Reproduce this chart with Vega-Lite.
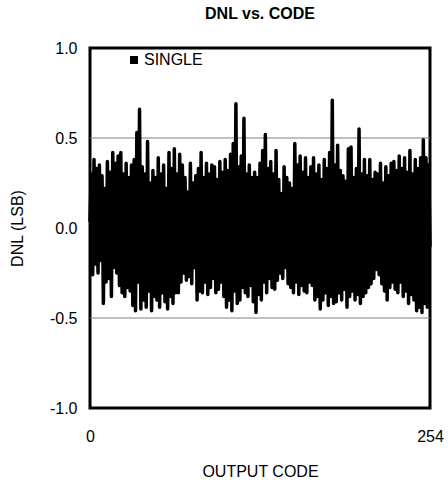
{
  "$schema": "https://vega.github.io/schema/vega-lite/v6.json",
  "width": 340,
  "height": 360,
  "autosize": {"type": "none"},
  "padding": {"left": 90, "top": 48, "right": 18, "bottom": 77},
  "background": "white",
  "config": {
    "font": "Liberation Sans",
    "view": {"stroke": "black", "strokeWidth": 3},
    "axis": {"labelFont": "Liberation Sans", "titleFont": "Liberation Sans", "labelColor": "black", "titleColor": "black", "titleFontWeight": "normal"}
  },
  "title": {"text": "DNL vs. CODE", "fontSize": 16, "fontWeight": "bold", "font": "Liberation Sans", "color": "black", "offset": 18},
  "layer": [
    {
      "data": {"values": [{"g": 0.5}, {"g": -0.5}]},
      "mark": {"type": "rule", "color": "#808080", "strokeWidth": 1},
      "encoding": {"y": {"field": "g", "type": "quantitative", "scale": {"domain": [-1, 1]}}}
    },
    {
      "data": {"values": [
{"code":0,"dnl":0.04},{"code":1,"dnl":0.30},{"code":2,"dnl":-0.26},{"code":3,"dnl":0.38},{"code":4,"dnl":-0.20},{"code":5,"dnl":0.33},{"code":6,"dnl":-0.25},{"code":7,"dnl":0.35},{"code":8,"dnl":-0.18},{"code":9,"dnl":0.29},
{"code":10,"dnl":-0.42},{"code":11,"dnl":0.22},{"code":12,"dnl":-0.30},{"code":13,"dnl":0.37},{"code":14,"dnl":-0.28},{"code":15,"dnl":0.31},{"code":16,"dnl":-0.38},{"code":17,"dnl":0.42},{"code":18,"dnl":-0.22},{"code":19,"dnl":0.36},
{"code":20,"dnl":-0.25},{"code":21,"dnl":0.40},{"code":22,"dnl":-0.32},{"code":23,"dnl":0.42},{"code":24,"dnl":-0.36},{"code":25,"dnl":0.30},{"code":26,"dnl":-0.38},{"code":27,"dnl":0.36},{"code":28,"dnl":-0.33},{"code":29,"dnl":0.28},
{"code":30,"dnl":-0.35},{"code":31,"dnl":0.35},{"code":32,"dnl":-0.43},{"code":33,"dnl":0.38},{"code":34,"dnl":-0.46},{"code":35,"dnl":0.53},{"code":36,"dnl":-0.30},{"code":37,"dnl":0.66},{"code":38,"dnl":-0.45},{"code":39,"dnl":0.34},
{"code":40,"dnl":-0.40},{"code":41,"dnl":0.30},{"code":42,"dnl":-0.44},{"code":43,"dnl":0.48},{"code":44,"dnl":-0.35},{"code":45,"dnl":0.25},{"code":46,"dnl":-0.46},{"code":47,"dnl":0.32},{"code":48,"dnl":-0.38},{"code":49,"dnl":0.28},
{"code":50,"dnl":-0.40},{"code":51,"dnl":0.39},{"code":52,"dnl":-0.44},{"code":53,"dnl":0.30},{"code":54,"dnl":-0.36},{"code":55,"dnl":0.35},{"code":56,"dnl":-0.41},{"code":57,"dnl":0.22},{"code":58,"dnl":-0.45},{"code":59,"dnl":0.42},
{"code":60,"dnl":-0.38},{"code":61,"dnl":0.33},{"code":62,"dnl":-0.42},{"code":63,"dnl":0.44},{"code":64,"dnl":-0.36},{"code":65,"dnl":0.30},{"code":66,"dnl":-0.36},{"code":67,"dnl":0.41},{"code":68,"dnl":-0.30},{"code":69,"dnl":0.35},
{"code":70,"dnl":-0.25},{"code":71,"dnl":0.28},{"code":72,"dnl":-0.29},{"code":73,"dnl":0.20},{"code":74,"dnl":-0.27},{"code":75,"dnl":0.36},{"code":76,"dnl":-0.31},{"code":77,"dnl":0.25},{"code":78,"dnl":-0.22},{"code":79,"dnl":0.29},
{"code":80,"dnl":-0.40},{"code":81,"dnl":0.33},{"code":82,"dnl":-0.35},{"code":83,"dnl":0.42},{"code":84,"dnl":-0.36},{"code":85,"dnl":0.28},{"code":86,"dnl":-0.30},{"code":87,"dnl":0.36},{"code":88,"dnl":-0.37},{"code":89,"dnl":0.30},
{"code":90,"dnl":-0.33},{"code":91,"dnl":0.35},{"code":92,"dnl":-0.28},{"code":93,"dnl":0.34},{"code":94,"dnl":-0.36},{"code":95,"dnl":0.27},{"code":96,"dnl":-0.34},{"code":97,"dnl":0.37},{"code":98,"dnl":-0.30},{"code":99,"dnl":0.31},
{"code":100,"dnl":-0.38},{"code":101,"dnl":0.38},{"code":102,"dnl":-0.44},{"code":103,"dnl":0.32},{"code":104,"dnl":-0.40},{"code":105,"dnl":0.41},{"code":106,"dnl":-0.46},{"code":107,"dnl":0.47},{"code":108,"dnl":-0.35},{"code":109,"dnl":0.69},
{"code":110,"dnl":-0.42},{"code":111,"dnl":0.34},{"code":112,"dnl":-0.40},{"code":113,"dnl":0.40},{"code":114,"dnl":-0.33},{"code":115,"dnl":0.61},{"code":116,"dnl":-0.36},{"code":117,"dnl":0.30},{"code":118,"dnl":-0.38},{"code":119,"dnl":0.35},
{"code":120,"dnl":-0.32},{"code":121,"dnl":0.28},{"code":122,"dnl":-0.41},{"code":123,"dnl":0.31},{"code":124,"dnl":-0.47},{"code":125,"dnl":0.28},{"code":126,"dnl":-0.37},{"code":127,"dnl":0.36},{"code":128,"dnl":-0.40},{"code":129,"dnl":0.43},
{"code":130,"dnl":-0.30},{"code":131,"dnl":0.52},{"code":132,"dnl":-0.36},{"code":133,"dnl":0.33},{"code":134,"dnl":-0.28},{"code":135,"dnl":0.37},{"code":136,"dnl":-0.33},{"code":137,"dnl":0.30},{"code":138,"dnl":-0.34},{"code":139,"dnl":0.43},
{"code":140,"dnl":-0.29},{"code":141,"dnl":0.27},{"code":142,"dnl":-0.25},{"code":143,"dnl":0.19},{"code":144,"dnl":-0.28},{"code":145,"dnl":0.34},{"code":146,"dnl":-0.22},{"code":147,"dnl":0.28},{"code":148,"dnl":-0.31},{"code":149,"dnl":0.25},
{"code":150,"dnl":-0.33},{"code":151,"dnl":0.22},{"code":152,"dnl":-0.36},{"code":153,"dnl":0.47},{"code":154,"dnl":-0.30},{"code":155,"dnl":0.35},{"code":156,"dnl":-0.37},{"code":157,"dnl":0.40},{"code":158,"dnl":-0.32},{"code":159,"dnl":0.31},
{"code":160,"dnl":-0.35},{"code":161,"dnl":0.39},{"code":162,"dnl":-0.36},{"code":163,"dnl":0.28},{"code":164,"dnl":-0.30},{"code":165,"dnl":0.34},{"code":166,"dnl":-0.32},{"code":167,"dnl":0.39},{"code":168,"dnl":-0.40},{"code":169,"dnl":0.30},
{"code":170,"dnl":-0.38},{"code":171,"dnl":0.35},{"code":172,"dnl":-0.45},{"code":173,"dnl":0.27},{"code":174,"dnl":-0.40},{"code":175,"dnl":0.38},{"code":176,"dnl":-0.36},{"code":177,"dnl":0.33},{"code":178,"dnl":-0.43},{"code":179,"dnl":0.42},
{"code":180,"dnl":-0.38},{"code":181,"dnl":0.71},{"code":182,"dnl":-0.42},{"code":183,"dnl":0.35},{"code":184,"dnl":-0.41},{"code":185,"dnl":0.46},{"code":186,"dnl":-0.36},{"code":187,"dnl":0.32},{"code":188,"dnl":-0.40},{"code":189,"dnl":0.29},
{"code":190,"dnl":-0.34},{"code":191,"dnl":0.26},{"code":192,"dnl":-0.44},{"code":193,"dnl":0.44},{"code":194,"dnl":-0.38},{"code":195,"dnl":0.45},{"code":196,"dnl":-0.35},{"code":197,"dnl":0.28},{"code":198,"dnl":-0.40},{"code":199,"dnl":0.33},
{"code":200,"dnl":-0.37},{"code":201,"dnl":0.55},{"code":202,"dnl":-0.42},{"code":203,"dnl":0.30},{"code":204,"dnl":-0.38},{"code":205,"dnl":0.38},{"code":206,"dnl":-0.36},{"code":207,"dnl":0.29},{"code":208,"dnl":-0.33},{"code":209,"dnl":0.38},
{"code":210,"dnl":-0.31},{"code":211,"dnl":0.27},{"code":212,"dnl":-0.28},{"code":213,"dnl":0.31},{"code":214,"dnl":-0.23},{"code":215,"dnl":0.30},{"code":216,"dnl":-0.26},{"code":217,"dnl":0.36},{"code":218,"dnl":-0.31},{"code":219,"dnl":0.25},
{"code":220,"dnl":-0.35},{"code":221,"dnl":0.34},{"code":222,"dnl":-0.40},{"code":223,"dnl":0.29},{"code":224,"dnl":-0.33},{"code":225,"dnl":0.36},{"code":226,"dnl":-0.30},{"code":227,"dnl":0.37},{"code":228,"dnl":-0.34},{"code":229,"dnl":0.32},
{"code":230,"dnl":-0.36},{"code":231,"dnl":0.40},{"code":232,"dnl":-0.30},{"code":233,"dnl":0.33},{"code":234,"dnl":-0.38},{"code":235,"dnl":0.39},{"code":236,"dnl":-0.35},{"code":237,"dnl":0.31},{"code":238,"dnl":-0.42},{"code":239,"dnl":0.43},
{"code":240,"dnl":-0.37},{"code":241,"dnl":0.30},{"code":242,"dnl":-0.40},{"code":243,"dnl":0.38},{"code":244,"dnl":-0.46},{"code":245,"dnl":0.33},{"code":246,"dnl":-0.44},{"code":247,"dnl":0.39},{"code":248,"dnl":-0.47},{"code":249,"dnl":0.49},
{"code":250,"dnl":-0.42},{"code":251,"dnl":0.39},{"code":252,"dnl":-0.44},{"code":253,"dnl":0.35},{"code":254,"dnl":-0.10}
      ]},
      "mark": {"type": "line", "strokeWidth": 3.5, "strokeJoin": "round", "strokeCap": "round"},
      "encoding": {
        "x": {"field": "code", "type": "quantitative", "scale": {"domain": [0, 254], "nice": false, "zero": false},
              "axis": {"values": [0, 254], "title": "OUTPUT CODE", "domain": false, "ticks": false, "grid": false, "labelPadding": 20, "labelFontSize": 16, "titleFontSize": 16, "titlePadding": 19, "labelFlush": false}},
        "y": {"field": "dnl", "type": "quantitative", "scale": {"domain": [-1, 1], "nice": false},
              "axis": {"values": [-1, -0.5, 0, 0.5, 1], "labelExpr": "replace(format(datum.value, '.1f'), '\u2212', '-')", "title": "DNL (LSB)", "domain": false, "ticks": false, "grid": false, "labelPadding": 13, "labelFontSize": 16, "titleFontSize": 16, "titlePadding": 24}},
        "color": {"datum": "SINGLE", "scale": {"range": ["black"]},
                  "legend": {"title": null, "orient": "none", "legendX": 36, "legendY": 4, "symbolType": "square", "symbolSize": 64, "labelFontSize": 16, "labelFont": "Liberation Sans", "labelColor": "black", "labelOffset": 2, "padding": 0,
                             "encode": {"symbols": {"update": {"fill": {"value": "black"}, "strokeWidth": {"value": 0}}}}}}
      }
    }
  ]
}
